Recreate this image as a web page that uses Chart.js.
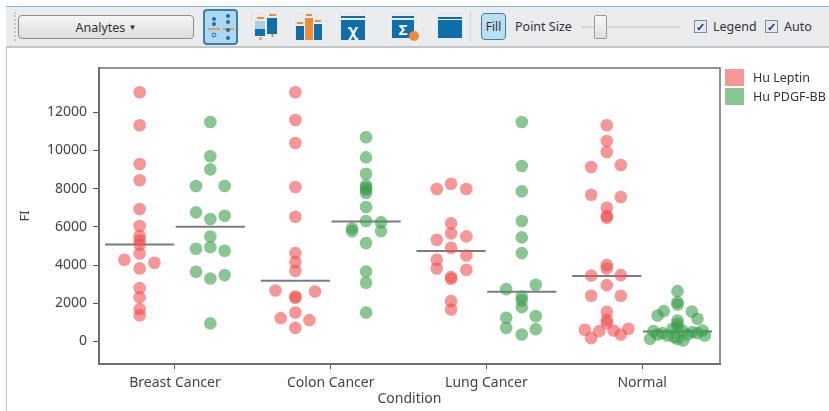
<!DOCTYPE html>
<html>
<head>
<meta charset="utf-8">
<script src="https://cdn.jsdelivr.net/npm/chart.js@4"></script>
<style>
  html, body { margin: 0; padding: 0; width: 829px; height: 411px; overflow: hidden; background: #fff; font-family: "Noto Sans", sans-serif; color: #333; }
  .win { position: absolute; left: 6px; top: 6px; width: 823px; height: 405px; border-left: 1px solid #c9c9c9; box-sizing: border-box; }
  .bar { position: absolute; left: 6px; top: 6px; width: 823px; height: 42px; background: #e9ebed; border-top: 1px solid #8fb4d2; border-bottom: 2px solid #c6c6c6; box-sizing: border-box; }
  .abs { position: absolute; }
  .grip { left: 14px; top: 12px; width: 2px; height: 29px; border-left: 2px dotted #c4c4c4; }
  .analytes { left: 18px; top: 15px; width: 176px; height: 24px; box-sizing: border-box; border: 1px solid #8d8d8d; border-radius: 4px; background: linear-gradient(#f6f6f6, #dcdcdc); font-size: 12.5px; text-align: center; line-height: 22px; }
  .analytes span { font-size: 8px; vertical-align: 2px; }
  .ico { top: 10px; width: 32px; height: 33px; border: 1px solid #eef0f1; border-radius: 3px; box-sizing: border-box; }
  .ico svg, .sel svg { position: absolute; left: 0; top: 0; }
  .sel { left: 203px; top: 9px; width: 35px; height: 36px; box-sizing: border-box; border: 2px solid #3c7fa6; border-radius: 4px; background: #acd9ef; }
  .fill { left: 481px; top: 13px; width: 25px; height: 27px; box-sizing: border-box; border: 1px solid #3c7fa6; border-radius: 4px; background: #b9e0f3; font-size: 12px; text-align: center; line-height: 25px; }
  .lbl { font-size: 12.5px; top: 18px; line-height: 18px; white-space: nowrap; }
  .track { left: 581px; top: 26px; width: 99px; height: 2px; background: #d4d4d4; }
  .thumb { left: 594px; top: 15px; width: 13px; height: 24px; box-sizing: border-box; border: 1px solid #9a9a9a; border-radius: 2px; background: linear-gradient(#f8f8f8, #dedede); }
  .chk { top: 20px; width: 13px; height: 13px; box-sizing: border-box; border: 1px solid #8a8a8a; background: #e4e8f2; color: #1d2f8a; font-size: 11px; line-height: 11px; text-align: center; font-weight: bold; }
  .sep { left: 470px; top: 11px; width: 1px; height: 31px; background: #d2d2d2; }
  #wrap { position: absolute; left: 0; top: 48px; width: 829px; height: 363px; }
  .swatch { left: 725px; width: 19px; height: 17px; }
  .leg { left: 753px; font-size: 12.500px; line-height: 17px; white-space: nowrap; }
</style>
</head>
<body>
<div class="win"></div>
<div class="bar"></div>
<div class="abs grip"></div>
<div class="abs analytes">Analytes <span>&#9660;</span></div>
<div class="abs sel"><svg width="31" height="32"><line x1="3" x2="15" y1="18" y2="18" stroke="#ef8a35" stroke-width="1.5"/><line x1="18" x2="29" y1="18" y2="18" stroke="#ef8a35" stroke-width="1.5"/><g fill="#1f6fa5"><circle cx="9" cy="8" r="2"/><circle cx="9" cy="13" r="2"/><circle cx="9" cy="24" r="2" fill="none" stroke="#1f6fa5"/><circle cx="23" cy="5" r="2"/><circle cx="23" cy="11" r="2"/><circle cx="23" cy="19" r="2"/><circle cx="23" cy="27" r="2"/></g></svg></div>
<div class="abs ico" style="left:248px"><svg width="32" height="33"><g fill="#ef8a35"><rect x="8" y="6" width="7" height="2"/><rect x="10.500" y="26" width="2" height="3"/><rect x="20" y="3" width="7" height="2"/><rect x="22.500" y="23" width="2" height="3"/></g><rect x="6" y="10" width="10" height="8" fill="#a9cfe3"/><rect x="6" y="18" width="10" height="7" fill="#0f6fa8"/><rect x="18" y="7" width="10" height="16" fill="#0f6fa8"/></svg></div>
<div class="abs ico" style="left:292px"><svg width="32" height="33"><rect x="3" y="15" width="8" height="14" fill="#0f6fa8"/><rect x="12" y="7" width="8" height="22" fill="#ef8a35"/><rect x="21" y="13" width="8" height="16" fill="#0f6fa8"/><g fill="#ef8a35"><rect x="4" y="11" width="6" height="2"/><rect x="13" y="3" width="6" height="2"/><rect x="22" y="9" width="6" height="2"/></g></svg></div>
<div class="abs ico" style="left:336px"><svg width="32" height="33"><rect x="4" y="5" width="24" height="2" fill="#0f6fa8"/><rect x="4" y="9" width="24" height="20" fill="#0f6fa8"/><text x="16" y="25" font-size="16" fill="#fff" text-anchor="middle" font-weight="bold">&#967;</text></svg></div>
<div class="abs ico" style="left:388px"><svg width="32" height="33"><rect x="3" y="5" width="22" height="2" fill="#0f6fa8"/><rect x="3" y="9" width="22" height="18" fill="#0f6fa8"/><text x="14" y="24" font-size="15" fill="#fff" text-anchor="middle" font-weight="bold">&#931;</text><circle cx="25" cy="25" r="5" fill="#ef8a35"/></svg></div>
<div class="abs ico" style="left:433px"><svg width="32" height="33"><rect x="4" y="6" width="24" height="2" fill="#0f6fa8"/><rect x="4" y="9" width="24" height="18" fill="#0f6fa8"/></svg></div>
<div class="abs sep"></div>
<div class="abs fill">Fill</div>
<div class="abs lbl" style="left:515px">Point Size</div>
<div class="abs track"></div>
<div class="abs thumb"></div>
<div class="abs chk" style="left:694px">&#10003;</div>
<div class="abs lbl" style="left:713px">Legend</div>
<div class="abs chk" style="left:765px">&#10003;</div>
<div class="abs lbl" style="left:784px">Auto</div>
<div id="wrap"><canvas id="chart-fi"></canvas></div>
<div class="abs swatch" id="sw0" style="top:69px"></div>
<div class="abs leg" id="leg0" style="top:69px"></div>
<div class="abs swatch" id="sw1" style="top:88px"></div>
<div class="abs leg" id="leg1" style="top:88px"></div>

<script>
// ── data ──────────────────────────────────────────────────────
const conditions = ["Breast Cancer", "Colon Cancer", "Lung Cancer", "Normal"];
const yTicks = [0, 2000, 4000, 6000, 8000, 10000, 12000];
const seriesNames = ["Hu Leptin", "Hu PDGF-BB"];

const leptinBreast  = [13050, 11320, 9290, 8440, 6935, 6045, 5520, 5300, 5080, 4610, 4280, 4125, 3825, 2795, 2310, 1695, 1370];
const leptinBreastJ = [0, 0, 0, 0, 0, 0, 0, 0, 0, 0, -0.098, 0.095, 0, 0, 0, 0, 0];
const leptinColon   = [13048, 11598, 10393, 8086, 6532, 4627, 4156, 3701, 2671, 2619, 2356, 2287, 1518, 1221, 1116, 714];
const leptinColonJ  = [0, 0, 0, 0, 0, 0, 0, 0, -0.128, 0.126, 0, 0, 0, -0.094, 0.09, 0];
const leptinLung    = [8261, 7982, 7982, 6182, 5658, 5326, 5501, 4907, 4505, 4278, 3824, 3754, 3370, 3282, 2112, 1675];
const leptinLungJ   = [0, -0.092, 0.098, 0, 0, -0.092, 0.098, 0, 0.098, -0.092, -0.092, 0.098, 0, 0, 0, 0];
const leptinNormal  = [11319, 10498, 9921, 9240, 9135, 7685, 7563, 7004, 6584, 6480, 4000, 3824, 3457, 3475, 2951, 2392, 2392, 1553, 1134, 959, 610, 173, 540, 575, 365, 662];
const leptinNormalJ = [0, 0, 0, 0.09, -0.1, -0.1, 0.09, 0, 0, 0, 0, 0, -0.1, 0.09, 0, -0.1, 0.09, 0, 0, 0, -0.141, -0.101, -0.049, 0.043, 0.09, 0.139];

const pdgfBreast    = [11495, 9700, 9010, 8140, 8140, 6760, 6585, 6410, 5500, 4940, 4855, 4750, 3650, 3475, 3300, 945];
const pdgfBreastJ   = [0, 0, 0, -0.092, 0.092, -0.092, 0.092, 0, 0, 0, -0.092, 0.092, -0.092, 0.092, 0, 0];
const pdgfColon     = [10690, 9641, 8785, 8174, 8052, 7947, 7772, 7038, 6305, 6235, 5920, 5780, 5780, 5152, 3667, 3073, 1518];
const pdgfColonJ    = [0, 0, 0, 0, 0, 0, 0, 0, 0, 0.096, -0.09, -0.09, 0.096, 0, 0, 0, 0];
const pdgfLung      = [11493, 9187, 7859, 6305, 5449, 4627, 2968, 2741, 2356, 2147, 1797, 1326, 1238, 714, 644, 365];
const pdgfLungJ     = [0, 0, 0, 0, 0, 0, 0.09, -0.1, 0, 0, 0, 0.09, -0.1, -0.1, 0.09, 0];
const pdgfNormal    = [2636, 2060, 1938, 1588, 1361, 1570, 1186, 1098, 924, 138, 540, 365, 435, 313, 662, 225, 750, 575, 51, 138, 365, 487, 435, 575, 313];
const pdgfNormalJ   = [0, 0, 0, -0.088, -0.128, 0.092, 0.128, 0, 0, -0.176, -0.154, -0.128, -0.096, -0.064, -0.032, -0.021, 0, 0.032, 0.036, 0, 0.064, 0.096, 0.128, 0.161, 0.176];

const leptinMedians = [5080, 3178, 4732, 3422];
const pdgfMedians   = [6010, 6287, 2601, 522];

// ── helpers ───────────────────────────────────────────────────
const DODGE = 0.227;
const HALF_LINE = 0.222;
const C_RED   = "rgba(240,80,80,0.6)";
const C_GREEN = "rgba(60,158,77,0.6)";

function buildPoints(groups, side) {
  const pts = [];
  groups.forEach(([vals, jit], c) => {
    vals.forEach((v, i) => pts.push({ x: c + side * DODGE + jit[i], y: v }));
  });
  return pts;
}

function buildMedianSegments(medians, side) {
  const pts = [];
  medians.forEach((m, c) => {
    const mid = c + side * DODGE;
    pts.push({ x: mid - HALF_LINE, y: m }, { x: mid + HALF_LINE, y: m }, { x: mid, y: null });
  });
  return pts;
}

const medianStyle = {
  showLine: true, pointRadius: 0, borderColor: "rgba(60,60,70,0.68)", borderWidth: 2,
  spanGaps: false, backgroundColor: "transparent",
};

// top and right edge of the plot frame
const framePlugin = {
  id: "frame",
  afterDraw(chart) {
    const { ctx, chartArea: a } = chart;
    ctx.save();
    ctx.strokeStyle = "#6e6e6e";
    ctx.lineWidth = 1.5;
    ctx.beginPath();
    ctx.moveTo(a.left, a.top);
    ctx.lineTo(a.right, a.top);
    ctx.lineTo(a.right, a.bottom);
    ctx.stroke();
    ctx.restore();
  },
};

// legend sits outside the canvas plot box, same place as in the picture
[C_RED, C_GREEN].forEach((c, i) => {
  document.getElementById("sw" + i).style.background = c;
  document.getElementById("leg" + i).textContent = seriesNames[i];
});

const FONT = "'Noto Sans', sans-serif";

new Chart(document.getElementById("chart-fi"), {
  type: "scatter",
  data: {
    datasets: [
      {
        label: seriesNames[0],
        data: buildPoints([[leptinBreast, leptinBreastJ], [leptinColon, leptinColonJ], [leptinLung, leptinLungJ], [leptinNormal, leptinNormalJ]], -1),
        backgroundColor: C_RED, borderWidth: 0, pointRadius: 6.3,
      },
      {
        label: seriesNames[1],
        data: buildPoints([[pdgfBreast, pdgfBreastJ], [pdgfColon, pdgfColonJ], [pdgfLung, pdgfLungJ], [pdgfNormal, pdgfNormalJ]], 1),
        backgroundColor: C_GREEN, borderWidth: 0, pointRadius: 6.3,
      },
      { label: "median-a", data: buildMedianSegments(leptinMedians, -1), ...medianStyle },
      { label: "median-b", data: buildMedianSegments(pdgfMedians, 1), ...medianStyle },
    ],
  },
  options: {
    responsive: true,
    maintainAspectRatio: false,
    animation: false,
    events: [],
    layout: { padding: { top: 20, left: 17, right: 109, bottom: 4 } },
    plugins: {
      tooltip: { enabled: false },
      legend: { display: false },
    },
    scales: {
      x: {
        type: "linear",
        min: -0.488,
        max: 3.5,
        afterBuildTicks: (s) => { s.ticks = conditions.map((_, i) => ({ value: i })); },
        afterFit: (s) => { s.height = 43; },
        ticks: {
          autoSkip: false, maxRotation: 0, padding: 6,
          color: "#444", font: { family: FONT, size: 14 },
          callback: (v) => conditions[v],
        },
        grid: { drawOnChartArea: false, drawTicks: true, tickLength: 5, color: "#555" },
        border: { color: "#6e6e6e", width: 2 },
        title: { display: true, text: "Condition", color: "#444", font: { family: FONT, size: 14 }, padding: 0 },
      },
      y: {
        min: -1180,
        max: 14320,
        afterBuildTicks: (s) => { s.ticks = yTicks.map((v) => ({ value: v })); },
        afterFit: (s) => { s.width = 82; },
        ticks: {
          padding: 6, color: "#444", font: { family: FONT, size: 14 },
          callback: (v) => String(v),
        },
        grid: { drawOnChartArea: false, drawTicks: true, tickLength: 6, color: "#555" },
        border: { color: "#6e6e6e", width: 2 },
        title: { display: true, text: "FI", color: "#444", font: { family: FONT, size: 13 }, padding: 0 },
      },
    },
  },
  plugins: [framePlugin],
});
</script>
</body>
</html>
